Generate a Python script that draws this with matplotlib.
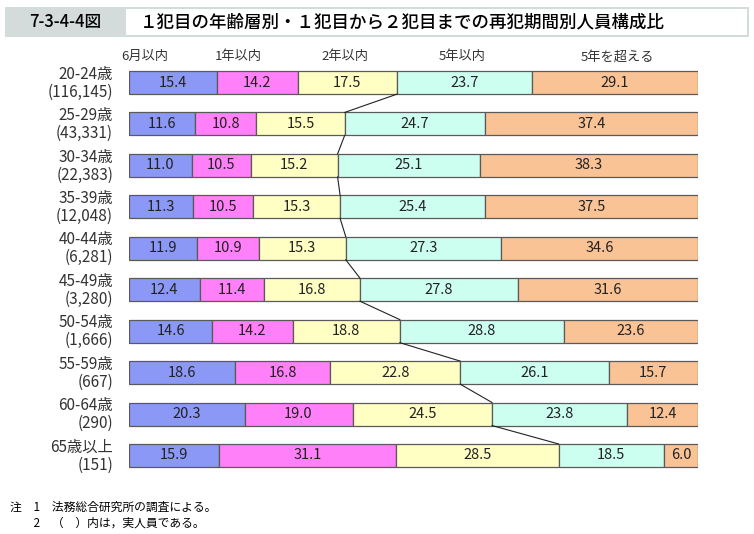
import matplotlib.pyplot as plt
from matplotlib.patches import Rectangle
import numpy as np

plt.rcParams['font.family'] = ['Noto Sans CJK JP', 'DejaVu Sans']

# データ
age_groups = ['20-24歳', '25-29歳', '30-34歳', '35-39歳', '40-44歳',
              '45-49歳', '50-54歳', '55-59歳', '60-64歳', '65歳以上']
persons = ['(116,145)', '(43,331)', '(22,383)', '(12,048)', '(6,281)',
           '(3,280)', '(1,666)', '(667)', '(290)', '(151)']
periods = ['6月以内', '1年以内', '2年以内', '5年以内', '5年を超える']
within_6m = [15.4, 11.6, 11.0, 11.3, 11.9, 12.4, 14.6, 18.6, 20.3, 15.9]
within_1y = [14.2, 10.8, 10.5, 10.5, 10.9, 11.4, 14.2, 16.8, 19.0, 31.1]
within_2y = [17.5, 15.5, 15.2, 15.3, 15.3, 16.8, 18.8, 22.8, 24.5, 28.5]
within_5y = [23.7, 24.7, 25.1, 25.4, 27.3, 27.8, 28.8, 26.1, 23.8, 18.5]
over_5y = [29.1, 37.4, 38.3, 37.5, 34.6, 31.6, 23.6, 15.7, 12.4, 6.0]

colors = ['#8c98f5', '#ff80f8', '#ffffc4', '#ccfff0', '#f9c396']
header_x = [2.8, 19.3, 38.0, 58.5, 85.8]

vals = np.array([within_6m, within_1y, within_2y, within_5y, over_5y]).T
shares = vals / vals.sum(axis=1, keepdims=True) * 100

fig = plt.figure(figsize=(7.54, 5.34), dpi=100)
W, H = 754, 534

# タイトル
fig.patches.append(Rectangle((5 / W, 1 - 37 / H), 744 / W, 30 / H,
                             transform=fig.transFigure, facecolor='#d3dbdb',
                             edgecolor='none'))
fig.patches.append(Rectangle((126 / W, 1 - 35 / H), 621 / W, 26 / H,
                             transform=fig.transFigure, facecolor='white',
                             edgecolor='none'))
fig.text(65 / W, 1 - 22 / H, '7-3-4-4図', fontsize=12, ha='center', va='center',
         weight='medium')
fig.text(140 / W, 1 - 22 / H,
         '１犯目の年齢層別・１犯目から２犯目までの再犯期間別人員構成比',
         fontsize=12.6, ha='left', va='center', weight='medium')

ax = fig.add_axes([129 / W, (534 - 476.2) / H, 569 / W, 414.4 / H])
n = len(age_groups)
y = np.arange(n)
h = 0.556
left = np.zeros(n)
for j in range(len(periods)):
    ax.barh(y, shares[:, j], left=left, height=h, color=colors[j],
            edgecolor='#5a5a5a', linewidth=0.9)
    for i in range(n):
        ax.text(left[i] + shares[i, j] / 2, y[i], f'{vals[i, j]:.1f}',
                ha='center', va='center', fontsize=10.5, color='#222222')
    left += shares[:, j]

# 2年以内の境界を結ぶ線
cum = np.cumsum(shares, axis=1)[:, 2]
for i in range(n - 1):
    ax.plot([cum[i], cum[i + 1]], [y[i] + h / 2, y[i + 1] - h / 2],
            color='#222222', linewidth=0.8)

for i in range(n):
    ax.text(-2.8, y[i] - 0.2, age_groups[i], ha='right', va='center',
            fontsize=11, color='#333333')
    ax.text(-2.8, y[i] + 0.23, persons[i], ha='right', va='center',
            fontsize=11, color='#333333')

for j, p in enumerate(periods):
    ax.text(header_x[j], -0.62, p, ha='center', va='center', fontsize=9.5,
            color='#333333')

ax.set_xlim(0, 100)
ax.set_ylim(n - 0.5, -0.5)
ax.axis('off')

fig.text(10 / W, 1 - 507 / H, '注　1　法務総合研究所の調査による。',
         fontsize=8.5, ha='left', va='center')
fig.text(10 / W, 1 - 523 / H, '　　2　（　）内は，実人員である。',
         fontsize=8.5, ha='left', va='center')

fig.savefig('out.png', dpi=100)
